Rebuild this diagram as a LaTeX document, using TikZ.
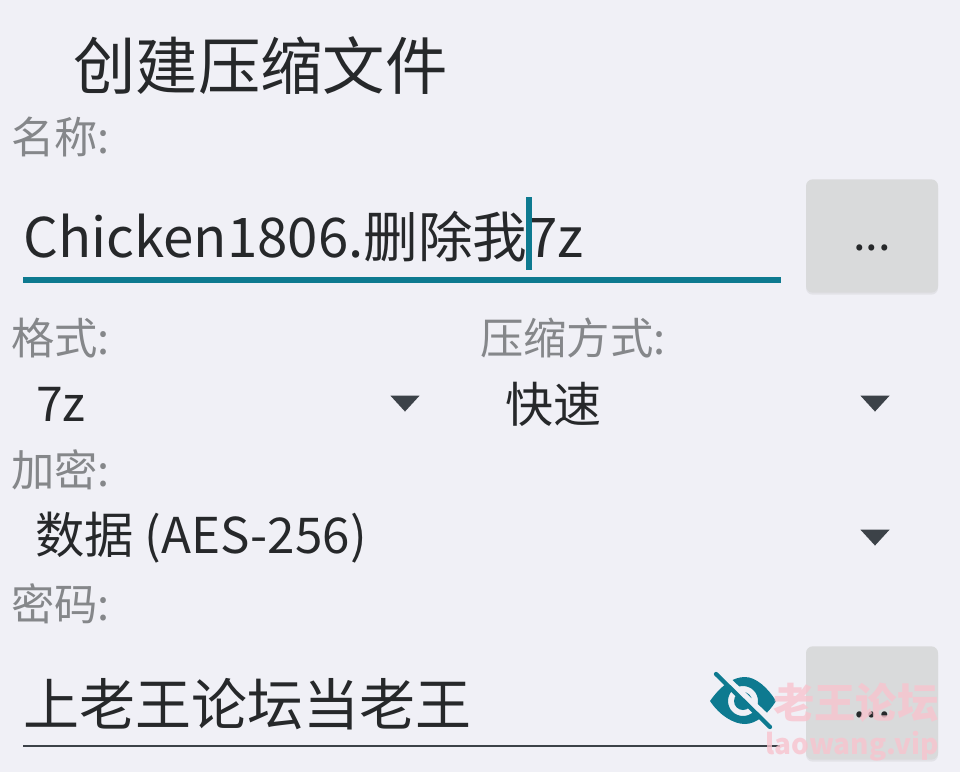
\documentclass[tikz,border=0pt]{standalone}
\usepackage{fontspec}
\usepackage{xcolor}
\setmainfont{Noto Sans CJK SC}
\usetikzlibrary{shapes.geometric,shadows}
\definecolor{pagebg}{HTML}{F0F0F6}
\definecolor{labelgray}{HTML}{85878A}
\definecolor{inktext}{HTML}{26282A}
\definecolor{tealline}{HTML}{0E7A90}
\definecolor{btngray}{HTML}{D9DADB}
\definecolor{arrowgray}{HTML}{3C4248}
\definecolor{markpink}{HTML}{F8C4CE}
\newcommand{\formlabel}[3]{\node[anchor=west,inner sep=0pt,text=labelgray,font=\fontsize{32.5pt}{33pt}\selectfont] at (#1) (#2) {#3}}
\newcommand{\formvalue}[4][36pt]{\node[anchor=west,inner sep=0pt,text=inktext,font=\fontsize{#1}{38pt}\selectfont] at (#2) (#3) {#4}}
\newcommand{\dotsbtn}[2]{\node[fill=btngray,rounded corners=5pt,minimum width=99pt,minimum height=85pt,inner sep=0pt,drop shadow={opacity=.12,shadow xshift=0pt,shadow yshift=-1.5pt}] at (#1) (#2) {}}
\newcommand{\droptip}[2]{\node[isosceles triangle,isosceles triangle apex angle=85,shape border rotate=-90,fill=arrowgray,inner sep=0pt,minimum width=22pt,minimum height=10pt] at (#1) (#2) {}}
\tikzset{dotstext/.style={inner sep=0pt,text=inktext,font=\fontsize{34pt}{34pt}\selectfont}}
\begin{document}
\begin{tikzpicture}[x=0.75pt,y=-0.75pt]
  \fill[pagebg] (0,0) rectangle (960,772);
  \node[anchor=west,inner sep=0pt,text=inktext,font=\fontsize{46.8pt}{48pt}\selectfont] at (73,66) (title) {创建压缩文件};
  % name row
  \formlabel{11,137}{namelabel}{名称:};
  \formvalue[41pt]{23,237}{namevalue}{Chicken1806.删除我7z};
  \draw[tealline,line width=4.2pt] (23,280) -- (781,280);
  \draw[tealline,line width=4.6pt] (529,197) -- (529,270);
  \dotsbtn{872,236}{namebtn};
  \node[dotstext] at (872,248) (namedots) {...};
  % format and compression
  \formlabel{11,338}{formatlabel}{格式:};
  \formlabel{480,338}{methodlabel}{压缩方式:};
  \formvalue{36,404}{formatvalue}{7z};
  \formvalue{505,404}{methodvalue}{快速};
  \droptip{405,402}{formatdrop};
  \droptip{875,402}{methoddrop};
  % encryption
  \formlabel{11,470}{cryptlabel}{加密:};
  \formvalue[37pt]{35,538}{cryptvalue}{数据 (AES-256)};
  \droptip{875,536}{cryptdrop};
  % password
  \formlabel{11,604}{passlabel}{密码:};
  \formvalue[42pt]{23,704}{passvalue}{上老王论坛当老王};
  \draw[arrowgray,line width=2.2pt] (23,746) -- (780,746);
  \dotsbtn{872,703}{passbtn};
  \node[dotstext] at (872,715) (passdots) {...};
  % eye icon
  \fill[tealline,even odd rule] (710,701) .. controls (722,684) and (734,677) .. (745,677)
    .. controls (756,677) and (768,688) .. (776,701)
    .. controls (768,714) and (756,724) .. (745,724)
    .. controls (734,724) and (720,716) .. (710,701) -- cycle
    (743,701) circle[radius=15];
  \fill[tealline] (743,701) circle[radius=9];
  \draw[pagebg,line width=6pt] (718,672) -- (775,726);
  \draw[tealline,line width=3.2pt,line cap=round] (716,674) -- (770,727);
  % watermark
  \node[anchor=west,inner sep=0pt,text=markpink,opacity=.8,font=\fontsize{31pt}{32pt}\bfseries\selectfont] at (773,703) (markcn) {老王论坛};
  \node[anchor=west,inner sep=0pt,text=markpink,opacity=.8,font=\fontsize{21pt}{22pt}\bfseries\selectfont] at (765,746) (markurl) {laowang.vip};
\end{tikzpicture}
\end{document}
